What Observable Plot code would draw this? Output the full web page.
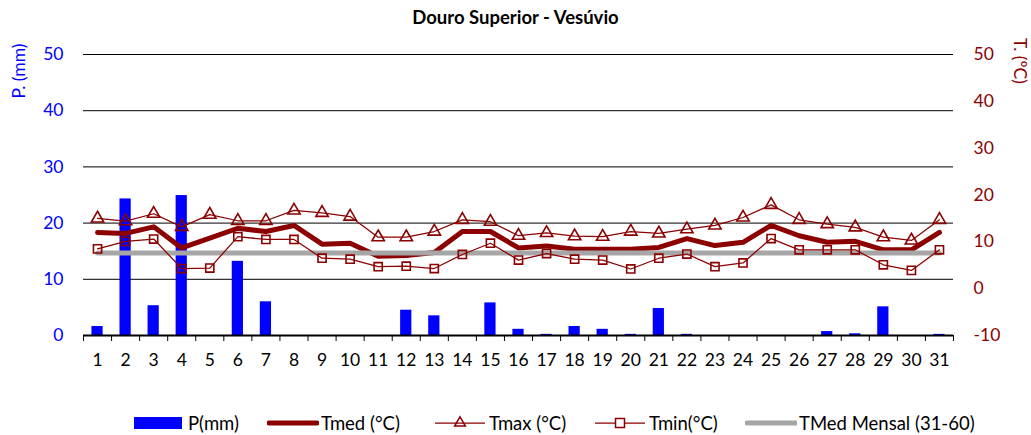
<!DOCTYPE html>
<html>
<head>
<meta charset="utf-8">
<script src="https://cdn.jsdelivr.net/npm/d3@7"></script>
<script src="https://cdn.jsdelivr.net/npm/@observablehq/plot@0.6"></script>
<style>
  body { margin: 0; background: #fff; font-family: Lato, "Open Sans", sans-serif; }
  #wrap { position: relative; width: 1031px; height: 435px; overflow: hidden; }
  #chart { position: absolute; left: 0; top: 0; }
  .abs { position: absolute; white-space: nowrap; }
  #title { left: 0; width: 1031px; top: 6px; text-align: center; font-weight: bold; font-size: 18.5px; color: #000; }
  #ytl { left: 18px; top: 71px; color: #0000FF; font-size: 17.5px; transform: translate(-50%, -50%) rotate(-90deg); }
  #ytr { left: 1020px; top: 61px; color: #8B0000; font-size: 17.5px; transform: translate(-50%, -50%) rotate(90deg); }
  #legend { left: 0; top: 412px; width: 1031px; height: 22px; font-size: 18.5px; color: #000; }
  .item { position: absolute; top: 0; display: flex; align-items: center; height: 22px; }
  .item svg { display: block; margin-right: 2px; }
</style>
</head>
<body>
<div id="wrap">
  <div id="chart"></div>
  <div id="title" class="abs">Douro Superior - Vesúvio</div>
  <div id="ytl" class="abs">P. (mm)</div>
  <div id="ytr" class="abs">T. (ºC)</div>
  <div id="legend" class="abs"></div>
</div>
<script>
const days = d3.range(1, 32);
const precip = [1.6,24.3,5.3,24.9,0,13.2,6.0,0,0,0,0,4.5,3.5,0,5.8,1.1,0.2,1.6,1.1,0.2,4.8,0.2,0,0,0,0,0.7,0.3,5.1,0,0.2];
const tmed = [12.0,11.8,13.2,8.7,10.8,12.9,12.2,13.5,9.5,9.7,6.9,7.1,7.7,12.2,12.2,8.7,9.1,8.4,8.4,8.4,8.8,10.7,9.2,9.9,13.5,11.3,9.9,10.1,8.3,8.3,12.0];
const tmax = [15.0,14.4,16.0,13.2,15.8,14.5,14.5,16.7,16.2,15.4,11.0,11.0,12.2,14.7,14.3,11.3,11.9,11.2,11.1,12.2,11.8,12.7,13.5,15.2,17.9,14.7,13.8,13.1,11.0,10.3,14.7];
const tmin = [8.5,10.1,10.6,4.3,4.4,11.1,10.5,10.5,6.5,6.3,4.7,4.8,4.3,7.3,9.7,6.1,7.5,6.3,6.1,4.2,6.5,7.4,4.7,5.5,10.7,8.3,8.3,8.3,5.1,3.9,8.3];
const tmedMensal = 7.6;
const pTicks = [0, 10, 20, 30, 40, 50];
const tTicks = [-10, 0, 10, 20, 30, 40, 50];

const RED = "#8B0000";
const BLUE = "#0000FF";
const GREY = "#A6A6A6";

// temperature axis (-10..50) mapped onto precipitation axis (0..50)
const toP = t => (t + 10) * 50 / 60;
const toT = p => Math.round(p * 60 / 50 - 10);

const data = days.map((d, i) => ({
  day: d, p: precip[i],
  tmed: toP(tmed[i]), tmax: toP(tmax[i]), tmin: toP(tmin[i]),
  mensal: toP(tmedMensal)
}));

const chart = Plot.plot({
  width: 1031,
  height: 400,
  marginLeft: 83,
  marginRight: 78,
  marginTop: 54,
  marginBottom: 65,
  style: { fontFamily: "Lato, 'Open Sans', sans-serif", fontSize: "17.5px", background: "transparent" },
  x: { type: "linear", domain: [0.5, 31.5] },
  y: { domain: [0, 50] },
  marks: [
    Plot.ruleY(pTicks.filter(v => v > 0), { stroke: "#000", strokeWidth: 1 }),
    Plot.rectY(data, { x1: d => d.day - 0.2, x2: d => d.day + 0.2, y1: 0, y2: "p", fill: BLUE }),
    Plot.line(data, { x: "day", y: "tmed", stroke: RED, strokeWidth: 5, strokeLinejoin: "round", strokeLinecap: "round" }),
    Plot.line(data, { x: "day", y: "mensal", stroke: GREY, strokeWidth: 5, strokeLinecap: "round" }),
    Plot.line(data, { x: "day", y: "tmax", stroke: RED, strokeWidth: 1.25 }),
    Plot.dot(data, { x: "day", y: "tmax", symbol: "triangle", r: 4.6, stroke: RED, fill: "none", strokeWidth: 1.6 }),
    Plot.line(data, { x: "day", y: "tmin", stroke: RED, strokeWidth: 1.25 }),
    Plot.dot(data, { x: "day", y: "tmin", symbol: "square", r: 4.6, stroke: RED, fill: "none", strokeWidth: 1.6 }),
    Plot.ruleY([0], { stroke: "#000", strokeWidth: 2 }),
    Plot.axisX(d3.range(0.5, 32, 1), { tickSize: 6, tickFormat: () => "", stroke: "#000", strokeWidth: 1, label: null }),
    Plot.axisX(days, { tickSize: 0, tickPadding: 18, tickFormat: d => String(d), fill: "#000", label: null }),
    Plot.axisY(pTicks, { anchor: "left", tickSize: 0, tickPadding: 20, fill: BLUE, label: null }),
    Plot.axisY(tTicks.map(toP), { anchor: "right", tickSize: 0, tickPadding: 20, fill: RED, tickFormat: toT, label: null })
  ]
});
document.getElementById("chart").appendChild(chart);

// legend
const legend = document.getElementById("legend");
const items = [
  { x: 134, label: "P(mm)", draw: s => s.append("rect").attr("x", 0).attr("y", 5).attr("width", 48).attr("height", 12).attr("fill", BLUE) },
  { x: 267, label: "Tmed (°C)", draw: s => s.append("line").attr("x1", 2).attr("x2", 50).attr("y1", 11).attr("y2", 11).attr("stroke", RED).attr("stroke-width", 5).attr("stroke-linecap", "round") },
  { x: 435, label: "Tmax (°C)", draw: s => {
      s.append("line").attr("x1", 0).attr("x2", 50).attr("y1", 11).attr("y2", 11).attr("stroke", RED).attr("stroke-width", 1.25);
      s.append("path").attr("d", d3.symbol(d3.symbolTriangle, 50)()).attr("transform", "translate(25,11)").attr("fill", "none").attr("stroke", RED).attr("stroke-width", 1.5);
    } },
  { x: 595, label: "Tmin(°C)", draw: s => {
      s.append("line").attr("x1", 0).attr("x2", 50).attr("y1", 11).attr("y2", 11).attr("stroke", RED).attr("stroke-width", 1.25);
      s.append("rect").attr("x", 20.5).attr("y", 6.5).attr("width", 9).attr("height", 9).attr("fill", "#fff").attr("stroke", RED).attr("stroke-width", 1.5);
    } },
  { x: 745, label: "TMed Mensal (31-60)", draw: s => s.append("line").attr("x1", 2).attr("x2", 51).attr("y1", 11).attr("y2", 11).attr("stroke", GREY).attr("stroke-width", 5).attr("stroke-linecap", "round") }
];
for (const it of items) {
  const div = d3.select(legend).append("div").attr("class", "item").style("left", it.x + "px");
  const svg = div.append("svg").attr("width", 52).attr("height", 22);
  it.draw(svg);
  div.append("span").text(it.label);
}
</script>
</body>
</html>
